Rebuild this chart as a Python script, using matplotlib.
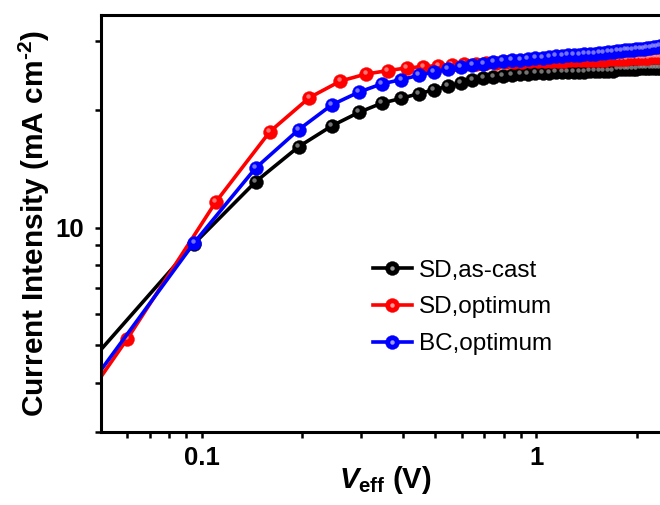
import matplotlib
matplotlib.use("Agg")
import matplotlib.pyplot as plt
import matplotlib.transforms as mtransforms
from matplotlib.legend_handler import HandlerTuple
from matplotlib.ticker import FixedLocator, NullFormatter, FixedFormatter

plt.rcParams['font.family'] = ['Liberation Sans', 'DejaVu Sans']
plt.rcParams['mathtext.fontset'] = 'custom'
plt.rcParams['mathtext.rm'] = 'Liberation Sans:bold'
plt.rcParams['mathtext.bf'] = 'Liberation Sans:bold'
plt.rcParams['mathtext.it'] = 'Liberation Sans:bold:italic'

# effective voltage (V) for the SD as-cast and BC optimum sweeps
v_sd_cast = [0.045, 0.095, 0.145, 0.195, 0.245, 0.295, 0.345, 0.395, 0.445, 0.495,
             0.545, 0.595, 0.645, 0.695, 0.745, 0.795, 0.845, 0.895, 0.945, 0.995,
             1.045, 1.095, 1.145, 1.195, 1.245, 1.295, 1.345, 1.395, 1.445, 1.495,
             1.545, 1.595, 1.645, 1.695, 1.745, 1.795, 1.845, 1.895, 1.945, 1.995,
             2.045, 2.095, 2.145, 2.195, 2.245, 2.295, 2.345, 2.395, 2.445, 2.495]
v_bc_opt = list(v_sd_cast)
v_sd_opt = [0.01, 0.06, 0.11, 0.16, 0.21, 0.26, 0.31, 0.36, 0.41, 0.46,
            0.51, 0.56, 0.61, 0.66, 0.71, 0.76, 0.81, 0.86, 0.91, 0.96,
            1.01, 1.06, 1.11, 1.16, 1.21, 1.26, 1.31, 1.36, 1.41, 1.46,
            1.51, 1.56, 1.61, 1.66, 1.71, 1.76, 1.81, 1.86, 1.91, 1.96,
            2.01, 2.06, 2.11, 2.16, 2.21, 2.26, 2.31, 2.36, 2.41, 2.46, 2.51]

# current density (mA cm^-2)
j_sd_cast = [4.4, 9.1, 13.1, 16.1, 18.2, 19.7, 20.8, 21.4, 22.0, 22.5,
             23.0, 23.4, 23.8, 24.1, 24.3, 24.45, 24.55, 24.65, 24.7, 24.8,
             24.85, 24.9, 24.95, 24.95, 25.0, 25.0, 25.05, 25.05, 25.1, 25.1,
             25.1, 25.15, 25.15, 25.2, 25.4, 25.45, 25.45, 25.5, 25.5, 25.5,
             25.55, 25.55, 25.6, 25.6, 25.6, 25.65, 25.65, 25.7, 25.7, 25.7]
j_sd_opt = [0.57, 5.2, 11.6, 17.6, 21.5, 23.7, 24.7, 25.2, 25.6, 25.8,
            25.95, 26.05, 26.15, 26.25, 26.35, 26.4, 26.45, 26.5, 26.55, 26.6,
            26.6, 26.65, 26.65, 26.7, 26.7, 26.75, 26.75, 26.8, 26.8, 26.85,
            26.85, 26.9, 26.9, 26.95, 27.0, 27.0, 27.05, 27.05, 27.1, 27.1,
            27.15, 27.15, 27.2, 27.2, 27.25, 27.25, 27.3, 27.3, 27.35, 27.35, 27.4]
j_bc_opt = [3.82, 9.15, 14.2, 17.8, 20.6, 22.2, 23.3, 23.9, 24.5, 25.0,
            25.4, 25.7, 26.0, 26.25, 26.45, 26.6, 26.75, 26.9, 27.0, 27.1,
            27.2, 27.3, 27.4, 27.5, 27.55, 27.6, 27.7, 27.75, 27.8, 27.85,
            27.95, 28.0, 28.1, 28.2, 28.25, 28.3, 28.4, 28.45, 28.5, 28.6,
            28.65, 28.7, 28.8, 28.85, 28.9, 29.0, 29.05, 29.1, 29.15, 29.2]

labels = ['SD,as-cast', 'SD,optimum', 'BC,optimum']
colors = ['#000000', '#ff0000', '#0000ff']
shines = ['#9a9a9a', '#ff9a9a', '#9a9aff']

fig = plt.figure(figsize=(6.6, 5.05), dpi=100)
ax = fig.add_axes([0.153, 0.1446, 0.861, 0.826])

# small offset so the bright spot sits on the upper left of each ball
shine_tr = mtransforms.offset_copy(ax.transData, fig=fig, x=-1.5, y=2.0, units='dots')

handles = []
for xs, ys, c, s, lab in zip([v_sd_cast, v_sd_opt, v_bc_opt],
                             [j_sd_cast, j_sd_opt, j_bc_opt],
                             colors, shines, labels):
    ln, = ax.plot(xs, ys, '-o', color=c, lw=2.6, ms=10, mec=c, mew=0.3, label=lab)
    ax.plot(xs, ys, 'o', color=s, ms=3.2, mew=0, alpha=0.75, transform=shine_tr)
    hl2, = ax.plot([], [], 'o', color=s, ms=3.2, mew=0)
    handles.append((ln, hl2))

ax.set_xscale('log')
ax.set_yscale('log')
ax.set_xlim(0.05, 2.5)
ax.set_ylim(3, 35)

ax.xaxis.set_major_locator(FixedLocator([0.1, 1]))
ax.xaxis.set_major_formatter(FixedFormatter(['0.1', '1']))
ax.xaxis.set_minor_locator(FixedLocator([0.06, 0.07, 0.08, 0.09, 0.2, 0.3, 0.4, 0.5,
                                         0.6, 0.7, 0.8, 0.9, 2]))
ax.xaxis.set_minor_formatter(NullFormatter())
ax.yaxis.set_major_locator(FixedLocator([10]))
ax.yaxis.set_major_formatter(FixedFormatter(['10']))
ax.yaxis.set_minor_locator(FixedLocator([3, 4, 5, 6, 7, 8, 9, 20, 30]))
ax.yaxis.set_minor_formatter(NullFormatter())

for sp in ax.spines.values():
    sp.set_linewidth(2.2)
ax.tick_params(which='both', direction='out', width=1.8, length=4, top=False, right=False)
ax.tick_params(which='major', labelsize=18.5, pad=6)
ax.tick_params(axis='y', which='major', pad=8)
for t in ax.get_xticklabels() + ax.get_yticklabels():
    t.set_fontweight('bold')

ax.set_xlabel(r'$V_{\mathrm{eff}}$ (V)', fontsize=21, fontweight='bold', labelpad=-4)
ax.set_ylabel(r'Current Intensity (mA cm$^{\text{-}2}$)', fontsize=21.5,
              fontweight='bold', labelpad=3)

ax.legend(handles, labels, handler_map={tuple: HandlerTuple(ndivide=1)},
          loc='upper left', bbox_to_anchor=(0.44, 0.465), frameon=False,
          fontsize=17.5, handlelength=1.6, handletextpad=0.3, labelspacing=0.6)

fig.savefig('out.png', dpi=100)
